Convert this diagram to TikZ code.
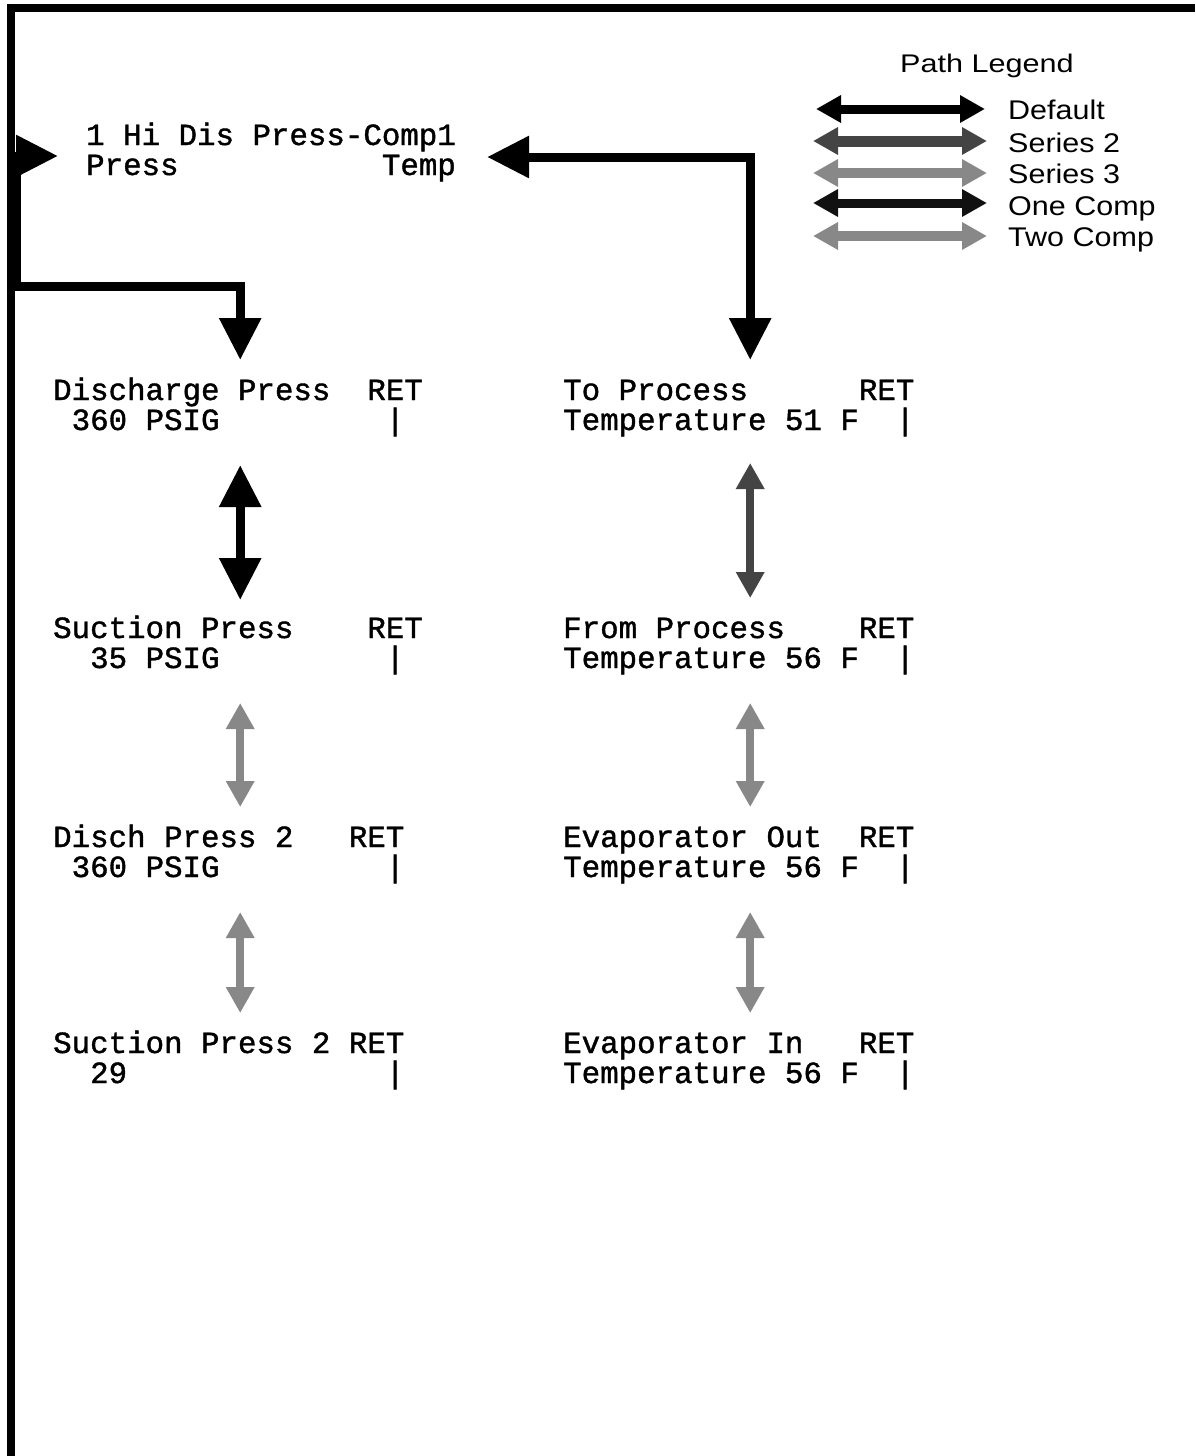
\documentclass[tikz,border=0pt]{standalone}
\usepackage{fontspec}
\usepackage{graphicx}
\usetikzlibrary{arrows.meta,calc}
\newfontfamily\dispfont[FakeBold=1.3]{Liberation Mono}
\newfontfamily\legfont{Liberation Sans}
\definecolor{sertwo}{HTML}{444444}
\definecolor{serthree}{HTML}{888888}
\definecolor{onecomp}{HTML}{111111}
\newcommand{\blk}[2]{\vtop{\hbox to 376pt{#1\hfil}\hbox to 376pt{#2\hfil}}}
\newcommand{\blknat}[2]{\vtop{\hbox{#1}\hbox{#2}}}
\begin{document}
\begin{tikzpicture}[x=1pt,y=-1pt,
  disp/.style={anchor=base west,inner sep=0pt,font=\dispfont\fontsize{30.8}{30}\selectfont},
  leg/.style={anchor=base west,inner sep=0pt,font=\legfont\fontsize{27}{30}\selectfont},
  legtitle/.style={anchor=base west,inner sep=0pt,font=\legfont\fontsize{25.5}{28}\selectfont},
  bigtip/.tip={Triangle[length=42pt,width=40pt]},
  midtip/.tip={Triangle[length=26pt,width=27pt]},
  legtip/.tip={Triangle[length=25pt,width=26pt]},
  link/.style={line width=9pt,line join=miter},
  bigboth/.style={link,{bigtip}-{bigtip}},
  grayboth/.style={line width=8pt,{midtip}-{midtip}},
  legboth/.style={line width=9pt,{legtip}-{legtip}},
]
\fill[white] (0,0) rectangle (1195,1456);
\useasboundingbox (0,0) rectangle (1195,1456);

% outer loop line
\coordinate (loopin) at (1195,8);
\coordinate (loopout) at (11,1456);
\draw[line width=8pt,line join=miter] (loopin) -| (loopout);

% top display
\node[disp] (T) at (86,145) {\blknat{1 Hi Dis Press-Comp1}{Press~~~~~~~~~~~Temp}};

% left column
\node[disp] (A) at (53,400) {\blk{Discharge Press~~RET}{~360 PSIG~~~~~~~~~|}};
\node[disp] (B) at (53,638) {\blk{Suction Press~~~~RET}{~~35 PSIG~~~~~~~~~|}};
\node[disp] (C) at (53,847) {\blk{Disch Press 2~~~RET}{~360 PSIG~~~~~~~~~|}};
\node[disp] (D) at (53,1053) {\blk{Suction Press 2 RET}{~~29~~~~~~~~~~~~~~|}};

% right column
\node[disp] (E) at (563,400) {\blk{To Process~~~~~~RET}{Temperature 51 F~~|}};
\node[disp] (F) at (563,638) {\blk{From Process~~~~RET}{Temperature 56 F~~|}};
\node[disp] (G) at (563,847) {\blk{Evaporator Out~~RET}{Temperature 56 F~~|}};
\node[disp] (H) at (563,1053) {\blk{Evaporator In~~~RET}{Temperature 56 F~~|}};

% connectors from top display
\draw[bigboth] ($(T.base west)+(-28,11)$) -- ++(-42,0) |- ($(A.base)+(-1,-114)$) -- ($(A.base)+(-1,-40)$);
\draw[bigboth] ($(T.base east)+(31,12)$) -| ($(E.base)+(-1,-40)$);

% vertical connectors
\draw[bigboth,draw=black] ($(A.base)+(-1,65)$) -- ($(B.base)+(-1,-38)$);
\draw[grayboth,draw=serthree,fill=serthree] ($(B.base)+(-1,65)$) -- ($(C.base)+(-1,-40)$);
\draw[grayboth,draw=serthree,fill=serthree] ($(C.base)+(-1,65)$) -- ($(D.base)+(-1,-40)$);
\draw[grayboth,draw=sertwo,fill=sertwo] ($(E.base)+(-1,63)$) -- ($(F.base)+(-1,-40)$);
\draw[grayboth,draw=serthree,fill=serthree] ($(F.base)+(-1,65)$) -- ($(G.base)+(-1,-40)$);
\draw[grayboth,draw=serthree,fill=serthree] ($(G.base)+(-1,65)$) -- ($(H.base)+(-1,-40)$);

% legend
\node[legtitle] (LT) at (900,72) {\scalebox{1.2}[1]{Path Legend}};
\node[leg] (L1) at (1008,119) {\scalebox{1.13}[1]{Default}};
\node[leg] (L2) at (1008,152) {\scalebox{1.13}[1]{Series 2}};
\node[leg] (L3) at (1008,183) {\scalebox{1.13}[1]{Series 3}};
\node[leg] (L4) at (1008,215) {\scalebox{1.13}[1]{One Comp}};
\node[leg] (L5) at (1008,246) {\scalebox{1.13}[1]{Two Comp}};
\coordinate (l1a) at ($(L1.base west)+(-192,-10)$);
\coordinate (l2a) at ($(L2.base west)+(-195,-11)$);
\coordinate (l3a) at ($(L3.base west)+(-195,-10)$);
\coordinate (l4a) at ($(L4.base west)+(-195,-12)$);
\coordinate (l5a) at ($(L5.base west)+(-195,-10)$);
\draw[legboth,draw=black,fill=black] (l1a) -- ($(L1.base west)+(-23,-10)$);
\draw[legboth,line width=11pt,draw=sertwo,fill=sertwo] (l2a) -- ($(L2.base west)+(-21,-11)$);
\draw[legboth,line width=10pt,draw=serthree,fill=serthree] (l3a) -- ($(L3.base west)+(-21,-10)$);
\draw[legboth,draw=onecomp,fill=onecomp] (l4a) -- ($(L4.base west)+(-21,-12)$);
\draw[legboth,line width=10pt,draw=serthree,fill=serthree] (l5a) -- ($(L5.base west)+(-21,-10)$);
\end{tikzpicture}
\end{document}
